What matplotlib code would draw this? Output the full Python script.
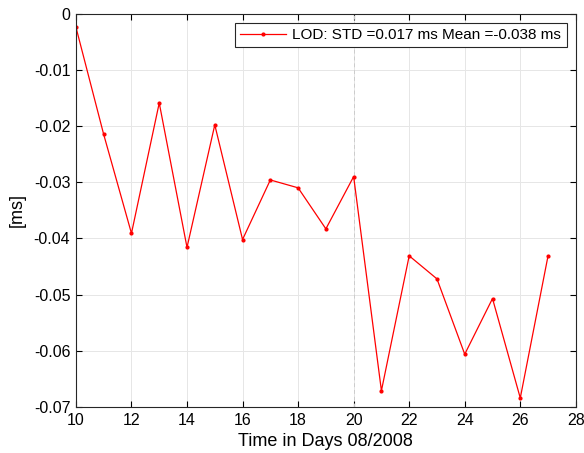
import matplotlib
matplotlib.use('Agg')
import matplotlib.pyplot as plt

# LOD daily values, August 2008
days = [10, 11, 12, 13, 14, 15, 16, 17, 18, 19, 20, 21, 22, 23, 24, 25, 26, 27]
lod = [-0.0024, -0.0215, -0.0391, -0.0159, -0.0416, -0.0198, -0.0402, -0.0296, -0.0310,
       -0.0383, -0.0290, -0.0671, -0.0431, -0.0472, -0.0606, -0.0507, -0.0684, -0.0431]
xticks = [10, 12, 14, 16, 18, 20, 22, 24, 26, 28]
yticks = [-0.07, -0.06, -0.05, -0.04, -0.03, -0.02, -0.01, 0]
ytick_labels = ['-0.07', '-0.06', '-0.05', '-0.04', '-0.03', '-0.02', '-0.01', '0']

plt.rcParams['font.family'] = ['Liberation Sans', 'DejaVu Sans']

fig = plt.figure(figsize=(5.84, 4.53), dpi=100)
ax = fig.add_axes([0.130, 0.1015, 0.856, 0.8685])

ax.plot(days, lod, color='red', linewidth=0.9, marker='.', markersize=4,
        label='LOD: STD =0.017 ms Mean =-0.038 ms')

ax.set_xlim(10, 28)
ax.set_ylim(-0.07, 0)
ax.set_xticks(xticks)
ax.set_yticks(yticks)
ax.set_yticklabels(ytick_labels)
ax.grid(True, color='#e6e6e6', linewidth=0.7)
ax.axvline(20, color='#cccccc', linewidth=0.7, linestyle=(0, (4, 3)), zorder=1)
ax.set_axisbelow(True)

ax.tick_params(direction='in', top=True, right=True, labelsize=11.5, length=4, width=0.8, pad=4)
for s in ax.spines.values():
    s.set_linewidth(0.8)
    s.set_color('#262626')

ax.set_xlabel('Time in Days 08/2008', fontsize=13, labelpad=4)
ax.set_ylabel('[ms]', fontsize=13, labelpad=6)

leg = ax.legend(loc='upper right', fontsize=11, fancybox=False, framealpha=1,
                edgecolor='#262626', handlelength=3.0, borderpad=0.35,
                borderaxespad=0.6, handletextpad=0.4)
leg.get_frame().set_linewidth(0.8)

fig.savefig('out.png', dpi=100)
